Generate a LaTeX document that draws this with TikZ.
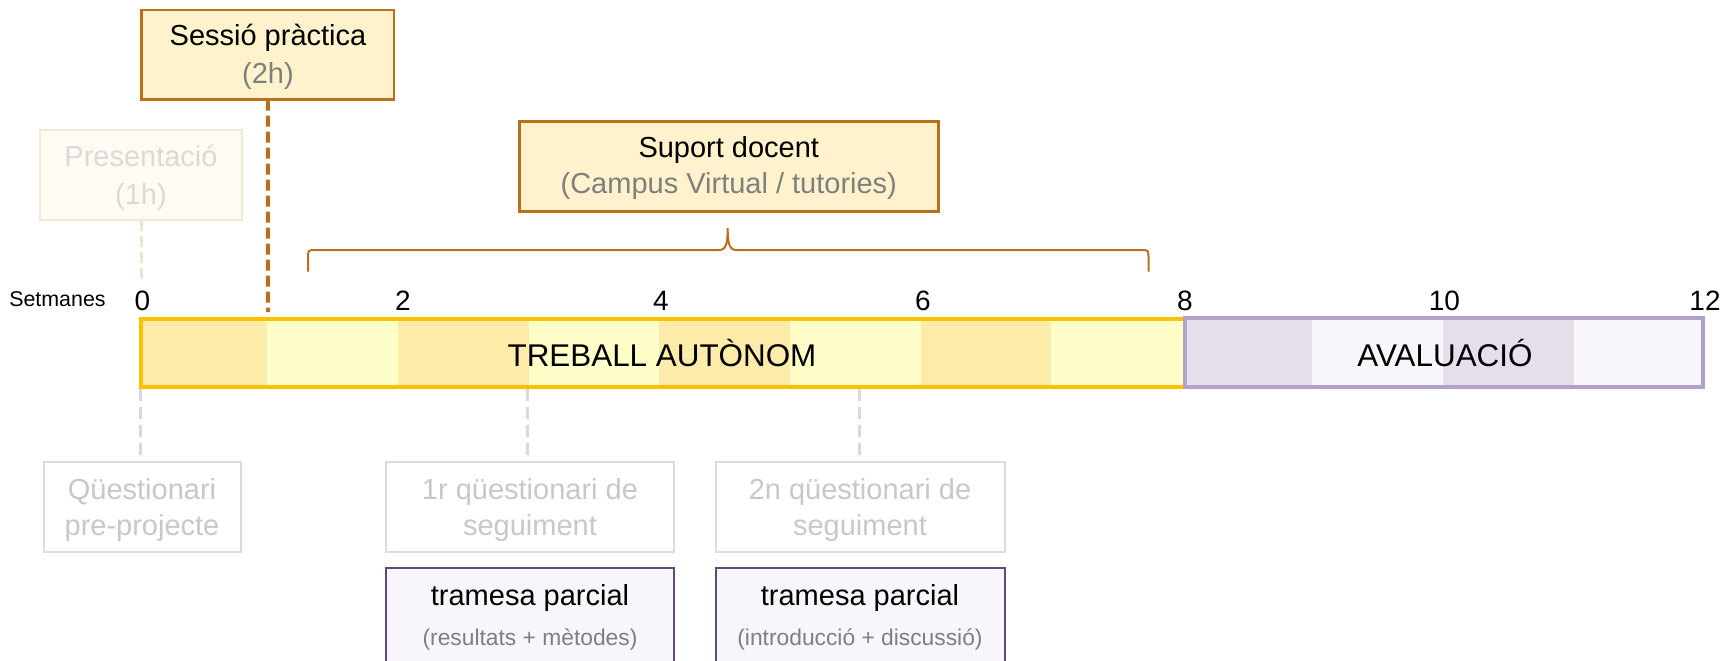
\documentclass[tikz,border=0pt]{standalone}
\usepackage{fontspec}
\setmainfont{Liberation Sans}
\usetikzlibrary{fit}
\definecolor{brownline}{HTML}{B8701A}
\definecolor{boxfill}{HTML}{FFF2CC}
\definecolor{gold}{HTML}{FFC000}
\definecolor{segdark}{HTML}{FDEBA9}
\definecolor{seglight}{HTML}{FFFDC8}
\definecolor{lavdark}{HTML}{E5DFEC}
\definecolor{lavlight}{HTML}{F8F6FA}
\definecolor{lavborder}{HTML}{B3A2C7}
\definecolor{darkpurple}{HTML}{5F497A}
\definecolor{subgray}{HTML}{7F7F7F}
\definecolor{fadetext}{HTML}{C8C8C8}
\definecolor{fadeborder}{HTML}{DEDAE4}
\definecolor{presfill}{HTML}{FFFBF3}
\definecolor{presborder}{HTML}{F3E7D7}
\definecolor{prestext}{HTML}{DADADA}
\definecolor{presdash}{HTML}{EFE3D1}
\definecolor{graydash}{HTML}{DAD6E2}
\begin{document}
\begin{tikzpicture}[x=0.5pt,y=-0.5pt,
  every node/.style={inner sep=0pt,outer sep=0pt},
  txt/.style={anchor=base,font=\fontsize{14.5}{17}\selectfont},
  subtxt/.style={anchor=base,font=\fontsize{11.4}{13}\selectfont,text=subgray},
  bartxt/.style={anchor=base,font=\fontsize{15.7}{18}\selectfont},
  numtxt/.style={anchor=base,font=\fontsize{14}{16}\selectfont},
  orangebox/.style={draw=brownline,fill=boxfill,line width=1.25pt},
  presbox/.style={draw=presborder,fill=presfill,line width=1pt},
  fadebox/.style={draw=fadeborder,fill=white,line width=1pt},
  trambox/.style={draw=darkpurple,fill=lavlight,line width=1pt},
  sessdash/.style={draw=brownline,line width=2pt,dash pattern=on 5.5pt off 2.5pt},
  presdashed/.style={draw=presdash,line width=1.5pt,dash pattern=on 5.5pt off 2.5pt},
  graydashed/.style={draw=graydash,line width=1.5pt,dash pattern=on 6pt off 3pt},
  bracestyle/.style={draw=brownline,line width=1pt}
]
\useasboundingbox (0,0) rectangle (1725,660);

% --- bar segments ---
\fill[segdark]  (141,318) rectangle (267,387);
\fill[seglight] (267,318) rectangle (398,387);
\fill[segdark]  (398,318) rectangle (529,387);
\fill[seglight] (529,318) rectangle (659,387);
\fill[segdark]  (659,318) rectangle (790,387);
\fill[seglight] (790,318) rectangle (920.6,387);
\fill[segdark]  (920.6,318) rectangle (1051,387);
\fill[seglight] (1051,318) rectangle (1185,387);
\fill[lavdark]  (1185,318) rectangle (1312.4,387);
\fill[lavlight] (1312.4,318) rectangle (1443,387);
\fill[lavdark]  (1443,318) rectangle (1573.6,387);
\fill[lavlight] (1573.6,318) rectangle (1703,387);

\node[fit={(141,318.7) (1185,387)},draw=gold,line width=2pt] (treball) {};
\node[fit={(1185,318) (1703,386.7)},draw=lavborder,line width=2pt] (aval) {};
\node[bartxt] (treballT) at (662,366.7) {TREBALL AUTÒNOM};
\node[bartxt] (avalT) at (1445,366) {AVALUACIÓ};

% --- week numbers ---
\node[anchor=base west,font=\fontsize{10.7}{12}\selectfont] (setm) at (9.3,306) {Setmanes};
\node[numtxt] (n0) at (142.5,310.7) {0};
\node[numtxt] (n2) at (403,310.7) {2};
\node[numtxt] (n4) at (661,310.7) {4};
\node[numtxt] (n6) at (923,310.7) {6};
\node[numtxt] (n8) at (1185,310.7) {8};
\node[numtxt] (n10) at (1444.4,310.7) {10};
\node[numtxt] (n12) at (1705,310.7) {12};

% --- top boxes ---
\node[fit={(40,130) (242,220)},presbox] (pres) {};
\node[txt,text=prestext] (presT1) at (141,166.5) {Presentació};
\node[txt,text=prestext] (presT2) at (141,204) {(1h)};

\node[fit={(141.7,10) (394,99.5)},orangebox] (sessio) {};
\node[txt] (sessioT1) at (268,45.7) {Sessió pràctica};
\node[txt,text=subgray] (sessioT2) at (268,83) {(2h)};

\node[fit={(519.3,121.7) (938.3,211.7)},orangebox] (suport) {};
\node[txt] (suportT1) at (728.8,157.7) {Suport docent};
\node[txt,text=subgray] (suportT2) at (728.8,193.3) {(Campus Virtual / tutories)};

% --- connectors above bar ---
\coordinate (presEnd) at (141,278);
\coordinate (sesEnd) at (268,312);
\draw[presdashed] (pres.south) -- (presEnd);
\draw[sessdash] (sessio.south) -- (sesEnd);

% --- brace ---
\coordinate (brL) at (308,271.7);
\coordinate (brR) at (1148.5,271.7);
\draw[bracestyle] (brL) -- (308,258)
  .. controls (308,250) .. (316,250) -- (719,250)
  .. controls (726,250) and (727.7,244) .. (727.7,228)
  .. controls (727.7,244) and (729.5,250) .. (736.5,250)
  -- (1140.5,250) .. controls (1148.5,250) .. (1148.5,258) -- (brR);

% --- bottom boxes ---
\node[fit={(43.5,461.7) (240.6,552.3)},fadebox] (qpre) {};
\node[txt,text=fadetext] (qpreT1) at (142,499) {Qüestionari};
\node[txt,text=fadetext] (qpreT2) at (142,535) {pre-projecte};

\node[fit={(385.8,461.7) (674.1,552.3)},fadebox] (q1) {};
\node[txt,text=fadetext] (q1T1) at (530,499) {1r qüestionari de};
\node[txt,text=fadetext] (q1T2) at (530,535) {seguiment};

\node[fit={(715.5,461.7) (1004.6,552.3)},fadebox] (q2) {};
\node[txt,text=fadetext] (q2T1) at (860,499) {2n qüestionari de};
\node[txt,text=fadetext] (q2T2) at (860,535) {seguiment};

\node[fit={(385.8,567.7) (674.1,700)},trambox] (t1) {};
\node[txt] (t1T1) at (530,605) {tramesa parcial};
\node[subtxt] (t1T2) at (530,645.5) {(resultats + mètodes)};

\node[fit={(715.5,567.7) (1004.6,700)},trambox] (t2) {};
\node[txt] (t2T1) at (860,605) {tramesa parcial};
\node[subtxt] (t2T2) at (860,645.5) {(introducció + discussió)};

% --- connectors below bar ---
\coordinate (b0) at (140.3,389);
\coordinate (b3) at (527,389);
\coordinate (b55) at (859.3,389);
\draw[graydashed] (b0) -- (b0 |- qpre.north) ;
\draw[graydashed] (b3) -- (b3 |- q1.north);
\draw[graydashed] (b55) -- (b55 |- q2.north);
\end{tikzpicture}
\end{document}
